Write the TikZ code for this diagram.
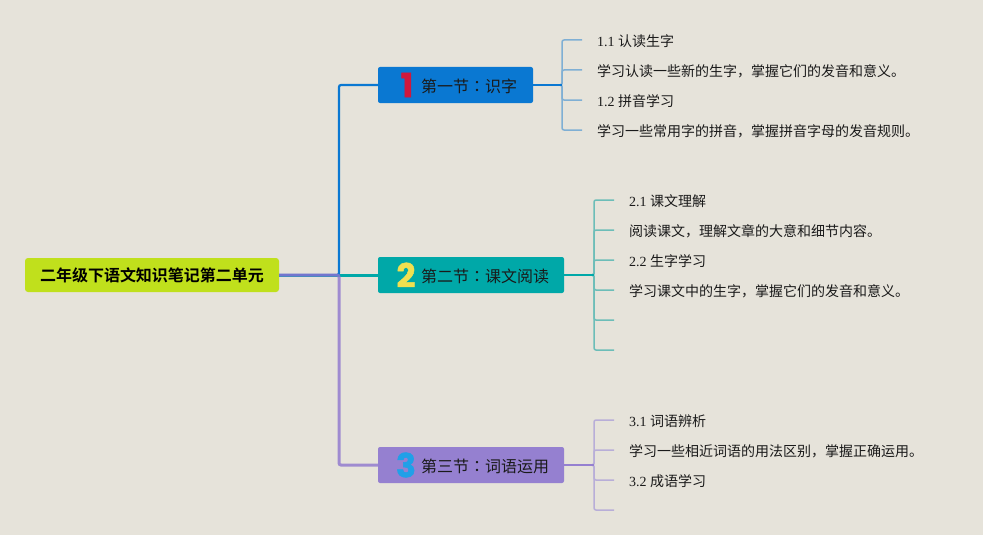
\documentclass[tikz,border=0pt]{standalone}
\usepackage{fontspec}
\setmainfont{Liberation Serif}
\newfontfamily\cjk{Noto Sans CJK SC}
\newfontfamily\cjktc{Noto Sans CJK TC}
\newfontfamily\cjkb{Noto Sans CJK SC Bold}
\newfontfamily\numf{Poppins}[FakeBold=1.5]
\definecolor{bgc}{HTML}{E6E3DA}
\definecolor{blueb}{HTML}{0A78D2}
\definecolor{tealb}{HTML}{00A8A8}
\definecolor{purpb}{HTML}{9580D0}
\definecolor{purpc}{HTML}{8E76CE}
\definecolor{limeb}{HTML}{C0E01C}
\definecolor{bluel}{HTML}{7FAFD4}
\definecolor{teall}{HTML}{6CBDB8}
\definecolor{purpl}{HTML}{B8AED8}
\definecolor{numr}{HTML}{D0183C}
\definecolor{numy}{HTML}{F0E050}
\definecolor{numb}{HTML}{20A0E8}
\definecolor{inkc}{HTML}{1A1A1A}
\tikzset{
  x=1pt,y=-1pt,
  rootbox/.style={fill=limeb,rounded corners=3pt,minimum width=254pt,minimum height=34pt,inner sep=0pt,
    font={\fontsize{16pt}{18pt}\cjkb},text=black},
  secbox/.style={rounded corners=2pt,minimum height=36pt,inner sep=0pt},
  seclabel/.style={anchor=west,inner sep=0pt,font={\fontsize{16pt}{19pt}\cjk},text=inkc},
  secnum/.style={inner sep=0pt,font={\fontsize{33pt}{35pt}\numf\bfseries}},
  leaf/.style={anchor=west,inner ysep=2pt,inner xsep=15pt,font={\fontsize{14pt}{17pt}\selectfont},text=inkc},
  mainline/.style={line width=3pt,rounded corners=2pt},
  subline/.style={line width=1.5pt,rounded corners=2pt},
}
\newcommand{\zh}[1]{{\cjk #1}}
\newcommand{\cn}{{\cjktc ：}}
\begin{document}
\begin{tikzpicture}
\useasboundingbox[fill=bgc] (0,0) rectangle (983,535);
% boxes
\node[rootbox] (root) at (152,275) {二年级下语文知识笔记第二单元};
\node[secbox,fill=blueb,minimum width=155pt] (s1) at (455.5,85) {};
\node[secbox,fill=tealb,minimum width=186pt] (s2) at (471,275) {};
\node[secbox,fill=purpb,minimum width=186pt] (s3) at (471,465) {};
\node[secnum,text=numr] (n1) at (407,85) {1};
\node[secnum,text=numy] (n2) at (406,275) {2};
\node[secnum,text=numb] (n3) at (406,465) {3};
\node[seclabel] (l1) at (421,86) {第一节\cn 识字};
\node[seclabel] (l2) at (421,276) {第二节\cn 课文阅读};
\node[seclabel] (l3) at (421,466) {第三节\cn 词语运用};
% leaves
\node[leaf] (a1) at (582,41) {1.1 \zh{认读生字}};
\node[leaf] (a2) at (582,71) {\zh{学习认读一些新的生字，掌握它们的发音和意义。}};
\node[leaf] (a3) at (582,101) {1.2 \zh{拼音学习}};
\node[leaf] (a4) at (582,131) {\zh{学习一些常用字的拼音，掌握拼音字母的发音规则。}};
\node[leaf] (b1) at (614,201) {2.1 \zh{课文理解}};
\node[leaf] (b2) at (614,231) {\zh{阅读课文，理解文章的大意和细节内容。}};
\node[leaf] (b3) at (614,261) {2.2 \zh{生字学习}};
\node[leaf] (b4) at (614,291) {\zh{学习课文中的生字，掌握它们的发音和意义。}};
\coordinate (b5) at (614,320);
\coordinate (b6) at (614,350);
\node[leaf] (c1) at (614,421) {3.1 \zh{词语辨析}};
\node[leaf] (c2) at (614,451) {\zh{学习一些相近词语的用法区别，掌握正确运用。}};
\node[leaf] (c3) at (614,481) {3.2 \zh{成语学习}};
\coordinate (c4) at (614,510);
% main connectors
\coordinate (t) at (339,275);
\draw[mainline,tealb] (root.east) -- (s2.west);
\draw[mainline,blueb,line width=2.2pt] (root.east) -- (t) |- (s1.west);
\draw[mainline,purpc,opacity=.8] (root.east) -- (t) |- (s3.west);
% sub connectors
\foreach \n/\yy in {a1/40,a2/70,a3/100,a4/130}
  \draw[subline,bluel] (s1.east) -- (562,85) |- (\n.west |- 0,\yy);
\foreach \n/\yy in {b1/200,b2/230,b3/260,b4/290,b5/320,b6/350}
  \draw[subline,teall] (s2.east) -- (594,275) |- (\n.west |- 0,\yy);
\foreach \n/\yy in {c1/420,c2/450,c3/480,c4/510}
  \draw[subline,purpl] (s3.east) -- (594,465) |- (\n.west |- 0,\yy);
\draw[line width=2pt,blueb] (s1.east) -- (562,85);
\draw[line width=2pt,tealb] (s2.east) -- (594,275);
\draw[line width=2pt,purpb] (s3.east) -- (594,465);
\end{tikzpicture}
\end{document}
